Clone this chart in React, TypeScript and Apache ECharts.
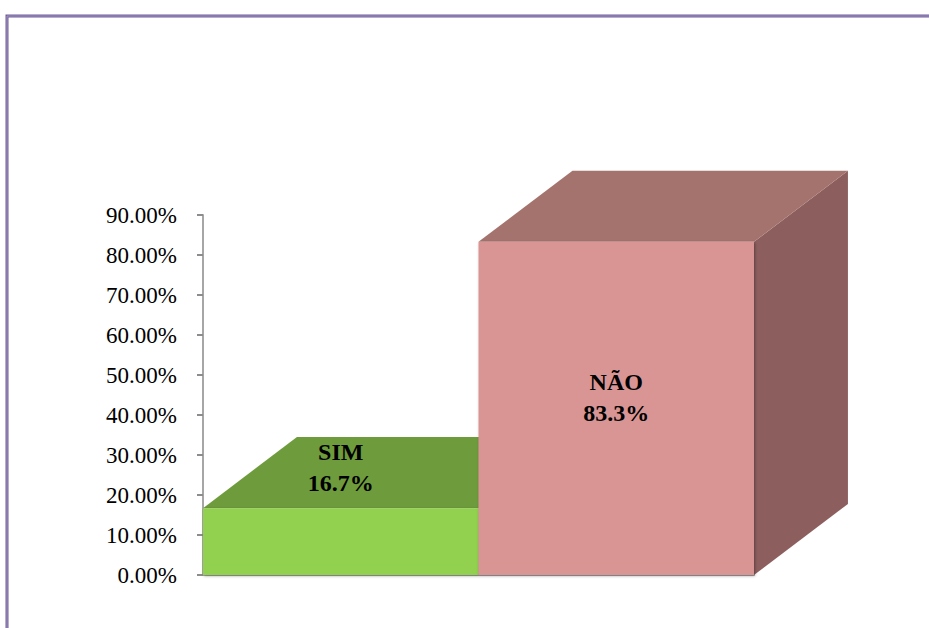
import React, { useEffect, useRef } from "react";
import * as echarts from "echarts";

const categories = ["SIM", "NÃO"];
const values = [16.7, 83.3];
const valueLabels = ["16.7%", "83.3%"];
const yTicks = [0, 10, 20, 30, 40, 50, 60, 70, 80, 90];

const FRONT = ["#92D050", "#D99594"];
const TOP = ["#6E9B3C", "#A5736E"];
const SIDE = ["#5E8A31", "#8C5F5E"];
const LABEL_DY = [-41, 156];

export default function App() {
  const ref = useRef<HTMLDivElement>(null);
  useEffect(() => {
    if (!ref.current) return;
    const chart = echarts.init(ref.current, null, { renderer: "svg" });
    const option: any = {
      animation: false,
      backgroundColor: "#ffffff",
      grid: { left: 203, top: 215, right: 175, bottom: 53, containLabel: false },
      xAxis: {
        type: "category",
        data: categories,
        boundaryGap: true,
        axisLine: { show: true, lineStyle: { color: "#a6a6a6", width: 2 } },
        axisTick: { show: false },
        axisLabel: { show: false },
        splitLine: { show: false },
      },
      yAxis: {
        type: "value",
        min: yTicks[0],
        max: yTicks[yTicks.length - 1],
        interval: 10,
        axisLine: { show: true, lineStyle: { color: "#a6a6a6", width: 2 } },
        axisTick: { show: true, length: 6, inside: false, lineStyle: { color: "#8c8c8c", width: 2 } },
        splitLine: { show: false },
        axisLabel: {
          formatter: (v: number) => `${v.toFixed(2)}%`,
          fontFamily: "'Liberation Serif', 'Times New Roman', serif",
          fontSize: 23,
          color: "#000000",
          margin: 26,
          padding: [12, 0, 0, 0],
        },
      },
      series: [
        {
          type: "custom",
          data: values.map((v, i) => [i, v]),
          renderItem: (params: any, api: any) => {
            const idx = api.value(0);
            const val = api.value(1);
            const i = params.dataIndex;
            const [cx, yTop] = api.coord([idx, val]);
            const yBase = api.coord([idx, 0])[1];
            const bw = api.size([1, 0])[0];
            const l = cx - bw / 2;
            const r = cx + bw / 2;
            const dx = bw * 0.341;
            const dy = -bw * 0.258;
            return {
              type: "group",
              children: [
                {
                  type: "polygon",
                  shape: { points: [[r, yTop], [r + dx, yTop + dy], [r + dx, yBase + dy], [r, yBase]] },
                  style: { fill: SIDE[i] },
                },
                {
                  type: "polygon",
                  shape: { points: [[l, yTop], [l + dx, yTop + dy], [r + dx, yTop + dy], [r, yTop]] },
                  style: { fill: TOP[i] },
                },
                {
                  type: "rect",
                  shape: { x: l, y: yTop, width: bw, height: yBase - yTop },
                  style: { fill: FRONT[i], shadowBlur: 3, shadowColor: "rgba(0,0,0,0.35)", shadowOffsetX: 1, shadowOffsetY: 1 },
                },
                {
                  type: "text",
                  x: cx,
                  y: yTop + LABEL_DY[i],
                  style: {
                    text: `${categories[i]}\n${valueLabels[i]}`,
                    fill: "#000000",
                    fontFamily: "'Liberation Serif', 'Times New Roman', serif",
                    fontWeight: "bold",
                    fontSize: 24,
                    lineHeight: 31,
                    align: "center",
                    verticalAlign: "middle",
                  },
                },
              ],
            };
          },
        },
      ],
      graphic: [
        {
          type: "rect",
          shape: { x: 7, y: 16, width: 1000, height: 1000 },
          style: { fill: "none", stroke: "#6f5f96", lineWidth: 3 },
          silent: true,
        },
        {
          type: "rect",
          shape: { x: 7, y: 16, width: 1000, height: 1000 },
          style: { fill: "none", stroke: "#a597c6", lineWidth: 1 },
          silent: true,
        },
      ],
    };
    chart.setOption(option);
    return () => chart.dispose();
  }, []);
  return (
    <div
      ref={ref}
      style={{ position: "absolute", left: 0, top: 0, width: 929, height: 628 }}
    />
  );
}
